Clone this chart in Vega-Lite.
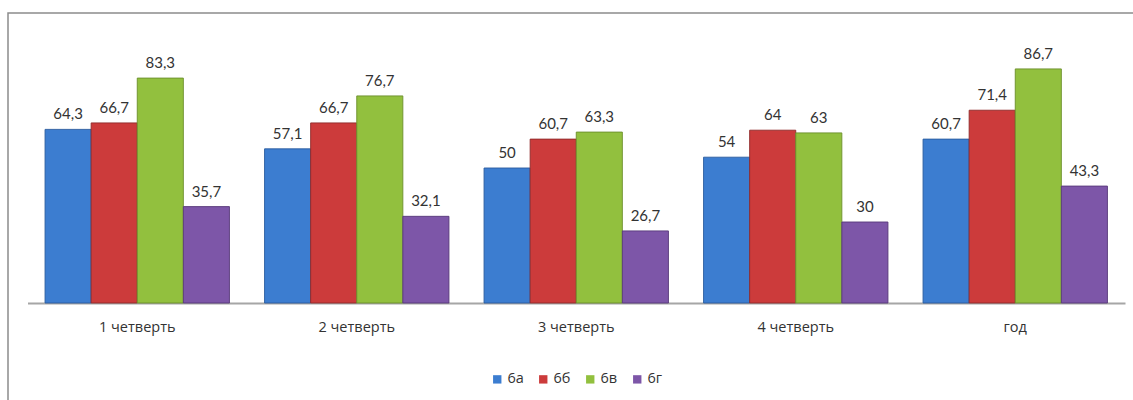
{
  "$schema": "https://vega.github.io/schema/vega-lite/v6.json",
  "autosize": {"type": "none"},
  "padding": {"left": 8, "top": 13, "right": -10, "bottom": -10},
  "width": 1135,
  "height": 397,
  "background": "white",
  "config": {
    "view": {"stroke": "#8C8C8C", "strokeWidth": 1.5},
    "locale": {"number": {"decimal": ",", "thousands": " ", "grouping": [3], "currency": ["", ""]}},
    "font": "Lato"
  },
  "data": {
    "values": [
      {"period": "1 четверть", "class": "6а", "value": 64.3},
      {"period": "1 четверть", "class": "6б", "value": 66.7},
      {"period": "1 четверть", "class": "6в", "value": 83.3},
      {"period": "1 четверть", "class": "6г", "value": 35.7},
      {"period": "2 четверть", "class": "6а", "value": 57.1},
      {"period": "2 четверть", "class": "6б", "value": 66.7},
      {"period": "2 четверть", "class": "6в", "value": 76.7},
      {"period": "2 четверть", "class": "6г", "value": 32.1},
      {"period": "3 четверть", "class": "6а", "value": 50},
      {"period": "3 четверть", "class": "6б", "value": 60.7},
      {"period": "3 четверть", "class": "6в", "value": 63.3},
      {"period": "3 четверть", "class": "6г", "value": 26.7},
      {"period": "4 четверть", "class": "6а", "value": 54},
      {"period": "4 четверть", "class": "6б", "value": 64},
      {"period": "4 четверть", "class": "6в", "value": 63},
      {"period": "4 четверть", "class": "6г", "value": 30},
      {"period": "год", "class": "6а", "value": 60.7},
      {"period": "год", "class": "6б", "value": 71.4},
      {"period": "год", "class": "6в", "value": 86.7},
      {"period": "год", "class": "6г", "value": 43.3}
    ]
  },
  "encoding": {
    "x": {
      "field": "period", "type": "nominal", "sort": null,
      "scale": {"range": [19.5, 1117], "paddingInner": 0.16, "paddingOuter": 0.08},
      "axis": {
        "title": null, "orient": "bottom", "offset": -107, "ticks": false,
        "domainColor": "#A6A6A6", "domainWidth": 2, "labelAngle": 0,
        "labelFontSize": 14.5, "labelColor": "#333333", "labelPadding": 17,
        "labelFont": "Open Sans"
      }
    },
    "xOffset": {
      "field": "class", "type": "nominal", "sort": ["6а", "6б", "6в", "6г"],
      "scale": {"paddingInner": 0, "paddingOuter": 0}
    },
    "y": {
      "field": "value", "type": "quantitative",
      "scale": {"domain": [0, 100], "range": [290, 20], "nice": false},
      "axis": null
    }
  },
  "layer": [
    {
      "mark": {"type": "bar", "strokeWidth": 1, "strokeOpacity": 0.9},
      "encoding": {
        "fill": {
          "field": "class", "type": "nominal", "sort": ["6а", "6б", "6в", "6г"],
          "scale": {"range": ["#3C7DD0", "#CC3B3B", "#92C03E", "#7D56A8"]},
          "legend": {
            "title": null, "orient": "none", "direction": "horizontal",
            "legendX": 482, "legendY": 359,
            "symbolType": "square", "symbolSize": 70, "symbolStrokeWidth": 0,
            "labelFontSize": 14.5, "labelColor": "#333333", "labelFont": "Open Sans",
            "columnPadding": 12, "labelOffset": 3
          }
        },
        "stroke": {
          "field": "class", "type": "nominal", "sort": ["6а", "6б", "6в", "6г"],
          "scale": {"range": ["#2A5C9E", "#8E2A2A", "#6A8E2A", "#58397A"]},
          "legend": null
        }
      }
    },
    {
      "mark": {"type": "text", "baseline": "bottom", "dy": -7, "fontSize": 15, "color": "#333333", "font": "Lato"},
      "encoding": {
        "text": {"field": "value", "type": "quantitative", "format": ".1~f"}
      }
    }
  ]
}
